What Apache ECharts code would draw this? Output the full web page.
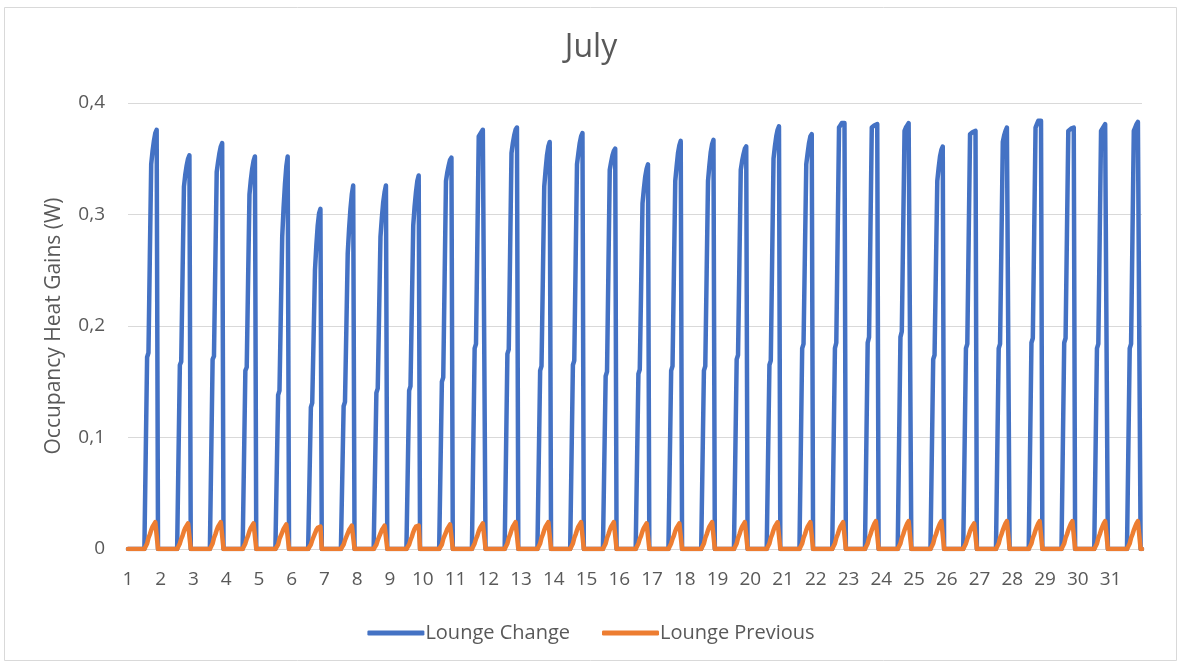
<!DOCTYPE html>
<html>
<head>
<meta charset="utf-8">
<title>July</title>
<script src="https://cdn.jsdelivr.net/npm/echarts@6/dist/echarts.min.js"></script>
<style>
  html, body { margin: 0; padding: 0; background: #ffffff; }
  #chart { width: 1182px; height: 666px; }
</style>
</head>
<body>
<div id="chart"></div>
<script>
// Day-of-month tick labels along the hourly axis
const dayLabels = ['1','2','3','4','5','6','7','8','9','10','11','12','13','14','15','16',
  '17','18','19','20','21','22','23','24','25','26','27','28','29','30','31'];

// First occupied hour of each day; values below cover hours 14..21, all other hours are 0
const firstOccupiedHour = 14;

// Lounge Change (W), hours 14..21 for each day of July
const loungeChange = [
  [0.172, 0.176, 0.262, 0.345, 0.357, 0.366, 0.373, 0.376],
  [0.165, 0.168, 0.248, 0.325, 0.336, 0.344, 0.350, 0.353],
  [0.170, 0.173, 0.256, 0.338, 0.347, 0.355, 0.361, 0.364],
  [0.160, 0.163, 0.241, 0.318, 0.331, 0.341, 0.348, 0.352],
  [0.138, 0.142, 0.212, 0.280, 0.306, 0.327, 0.343, 0.352],
  [0.127, 0.131, 0.190, 0.250, 0.272, 0.290, 0.301, 0.305],
  [0.128, 0.132, 0.198, 0.265, 0.287, 0.305, 0.318, 0.326],
  [0.140, 0.144, 0.212, 0.280, 0.297, 0.311, 0.320, 0.326],
  [0.142, 0.146, 0.218, 0.290, 0.307, 0.320, 0.330, 0.335],
  [0.150, 0.154, 0.242, 0.330, 0.338, 0.344, 0.349, 0.351],
  [0.180, 0.184, 0.277, 0.370, 0.372, 0.374, 0.376, 0.376],
  [0.175, 0.179, 0.267, 0.355, 0.364, 0.371, 0.376, 0.378],
  [0.160, 0.164, 0.244, 0.325, 0.340, 0.353, 0.361, 0.365],
  [0.165, 0.169, 0.257, 0.345, 0.355, 0.364, 0.370, 0.373],
  [0.155, 0.159, 0.249, 0.340, 0.347, 0.353, 0.357, 0.359],
  [0.157, 0.161, 0.235, 0.310, 0.323, 0.334, 0.341, 0.345],
  [0.160, 0.164, 0.247, 0.330, 0.343, 0.355, 0.362, 0.366],
  [0.160, 0.164, 0.247, 0.330, 0.344, 0.356, 0.363, 0.367],
  [0.170, 0.174, 0.257, 0.340, 0.348, 0.354, 0.359, 0.361],
  [0.165, 0.169, 0.260, 0.350, 0.361, 0.370, 0.376, 0.379],
  [0.180, 0.184, 0.265, 0.345, 0.355, 0.364, 0.370, 0.372],
  [0.180, 0.185, 0.281, 0.378, 0.380, 0.382, 0.383, 0.382],
  [0.185, 0.190, 0.284, 0.378, 0.379, 0.380, 0.381, 0.381],
  [0.190, 0.195, 0.285, 0.375, 0.378, 0.380, 0.382, 0.382],
  [0.170, 0.174, 0.252, 0.330, 0.342, 0.352, 0.358, 0.361],
  [0.180, 0.184, 0.278, 0.372, 0.373, 0.374, 0.375, 0.375],
  [0.180, 0.184, 0.274, 0.365, 0.371, 0.375, 0.378, 0.379],
  [0.185, 0.189, 0.283, 0.378, 0.381, 0.384, 0.385, 0.384],
  [0.185, 0.189, 0.282, 0.375, 0.376, 0.377, 0.378, 0.378],
  [0.180, 0.184, 0.279, 0.375, 0.377, 0.379, 0.381, 0.381],
  [0.180, 0.184, 0.279, 0.375, 0.378, 0.381, 0.383, 0.383]
];

// Lounge Previous (W), hours 14..21 for each day of July
const loungePrevious = [
  [0.005, 0.010, 0.013, 0.017, 0.020, 0.022, 0.024, 0.024],
  [0.005, 0.009, 0.012, 0.016, 0.019, 0.021, 0.023, 0.023],
  [0.005, 0.010, 0.013, 0.017, 0.020, 0.022, 0.024, 0.024],
  [0.005, 0.009, 0.012, 0.016, 0.019, 0.021, 0.023, 0.023],
  [0.004, 0.009, 0.012, 0.015, 0.018, 0.020, 0.022, 0.022],
  [0.004, 0.008, 0.011, 0.014, 0.017, 0.019, 0.020, 0.020],
  [0.004, 0.008, 0.011, 0.014, 0.017, 0.019, 0.021, 0.021],
  [0.004, 0.008, 0.011, 0.014, 0.017, 0.019, 0.021, 0.021],
  [0.004, 0.008, 0.011, 0.015, 0.018, 0.020, 0.021, 0.021],
  [0.004, 0.009, 0.012, 0.015, 0.018, 0.020, 0.022, 0.022],
  [0.005, 0.009, 0.012, 0.016, 0.019, 0.021, 0.023, 0.023],
  [0.005, 0.010, 0.013, 0.017, 0.020, 0.022, 0.024, 0.024],
  [0.005, 0.010, 0.013, 0.017, 0.020, 0.022, 0.024, 0.024],
  [0.005, 0.010, 0.013, 0.017, 0.020, 0.022, 0.024, 0.024],
  [0.005, 0.010, 0.013, 0.017, 0.020, 0.022, 0.024, 0.024],
  [0.005, 0.009, 0.012, 0.016, 0.019, 0.021, 0.023, 0.023],
  [0.005, 0.009, 0.012, 0.016, 0.019, 0.021, 0.023, 0.023],
  [0.005, 0.010, 0.013, 0.017, 0.020, 0.022, 0.024, 0.024],
  [0.005, 0.010, 0.013, 0.017, 0.020, 0.022, 0.024, 0.024],
  [0.005, 0.010, 0.013, 0.017, 0.020, 0.022, 0.024, 0.024],
  [0.005, 0.010, 0.013, 0.017, 0.020, 0.022, 0.024, 0.024],
  [0.005, 0.010, 0.013, 0.017, 0.020, 0.022, 0.024, 0.024],
  [0.005, 0.010, 0.013, 0.017, 0.020, 0.023, 0.025, 0.025],
  [0.005, 0.010, 0.013, 0.017, 0.020, 0.023, 0.025, 0.025],
  [0.005, 0.010, 0.013, 0.017, 0.020, 0.023, 0.025, 0.025],
  [0.005, 0.009, 0.012, 0.016, 0.019, 0.021, 0.023, 0.023],
  [0.005, 0.010, 0.013, 0.017, 0.020, 0.023, 0.025, 0.025],
  [0.005, 0.010, 0.013, 0.017, 0.020, 0.023, 0.025, 0.025],
  [0.005, 0.010, 0.013, 0.017, 0.020, 0.023, 0.025, 0.025],
  [0.005, 0.010, 0.013, 0.017, 0.020, 0.023, 0.025, 0.025],
  [0.005, 0.010, 0.013, 0.017, 0.020, 0.023, 0.025, 0.025]
];

// Expand the per-day occupied hours into a 744-point hourly series
function hourlySeries(days) {
  const out = [];
  days.forEach(function (vals) {
    for (let h = 0; h < 24; h++) {
      const k = h - firstOccupiedHour;
      out.push(k >= 0 && k < vals.length ? vals[k] : 0);
    }
  });
  return out;
}

const hours = [];
dayLabels.forEach(function (d) {
  for (let h = 0; h < 24; h++) hours.push(d + ' ' + h + ':00');
});

const textColor = '#595959';
const fontFamily = '"Open Sans", "Noto Sans", sans-serif';

const chart = echarts.init(document.getElementById('chart'), null, { renderer: 'canvas' });
chart.setOption({
  animation: false,
  backgroundColor: '#ffffff',
  textStyle: { fontFamily: fontFamily, color: textColor },
  graphic: [{
    type: 'rect',
    shape: { x: 4.5, y: 7.5, width: 1172, height: 653 },
    style: { fill: 'none', stroke: '#d9d9d9', lineWidth: 1 },
    silent: true
  }],
  title: {
    text: 'July',
    left: 'center',
    top: 27,
    textStyle: { fontFamily: fontFamily, fontSize: 32, fontWeight: 'normal', color: textColor }
  },
  legend: {
    bottom: 18,
    left: 'center',
    itemWidth: 57,
    itemHeight: 5,
    itemGap: 32,
    icon: 'roundRect',
    textStyle: { fontFamily: fontFamily, fontSize: 20, color: textColor, padding: [0, 0, 0, -4] },
    data: ['Lounge Change', 'Lounge Previous']
  },
  grid: { left: 128, right: 40, top: 103, bottom: 117, containLabel: false },
  xAxis: {
    type: 'category',
    data: hours,
    boundaryGap: false,
    axisLine: { show: true, lineStyle: { color: '#d9d9d9', width: 1 } },
    axisTick: { show: false },
    splitLine: { show: false },
    axisLabel: {
      interval: function (idx) { return idx % 24 === 0; },
      formatter: function (val) { return val.split(' ')[0]; },
      margin: 21,
      fontSize: 19,
      fontFamily: fontFamily,
      color: textColor
    }
  },
  yAxis: {
    type: 'value',
    min: 0,
    max: 0.4,
    interval: 0.1,
    name: 'Occupancy Heat Gains (W)',
    nameLocation: 'middle',
    nameGap: 63,
    nameTextStyle: { fontFamily: fontFamily, fontSize: 21, color: textColor },
    axisLine: { show: false },
    axisTick: { show: false },
    splitLine: { lineStyle: { color: '#d9d9d9', width: 1 } },
    axisLabel: {
      margin: 23,
      fontSize: 19,
      fontFamily: fontFamily,
      color: textColor,
      formatter: function (v) { return String(Math.round(v * 10) / 10).replace('.', ','); }
    }
  },
  series: [
    {
      name: 'Lounge Change',
      type: 'line',
      data: hourlySeries(loungeChange),
      showSymbol: false,
      symbol: 'none',
      color: '#4472c4',
      lineStyle: { width: 4.5, color: '#4472c4', join: 'round', cap: 'round' }
    },
    {
      name: 'Lounge Previous',
      type: 'line',
      data: hourlySeries(loungePrevious),
      showSymbol: false,
      symbol: 'none',
      color: '#ed7d31',
      lineStyle: { width: 4.5, color: '#ed7d31', join: 'round', cap: 'round' }
    }
  ]
});
</script>
</body>
</html>
